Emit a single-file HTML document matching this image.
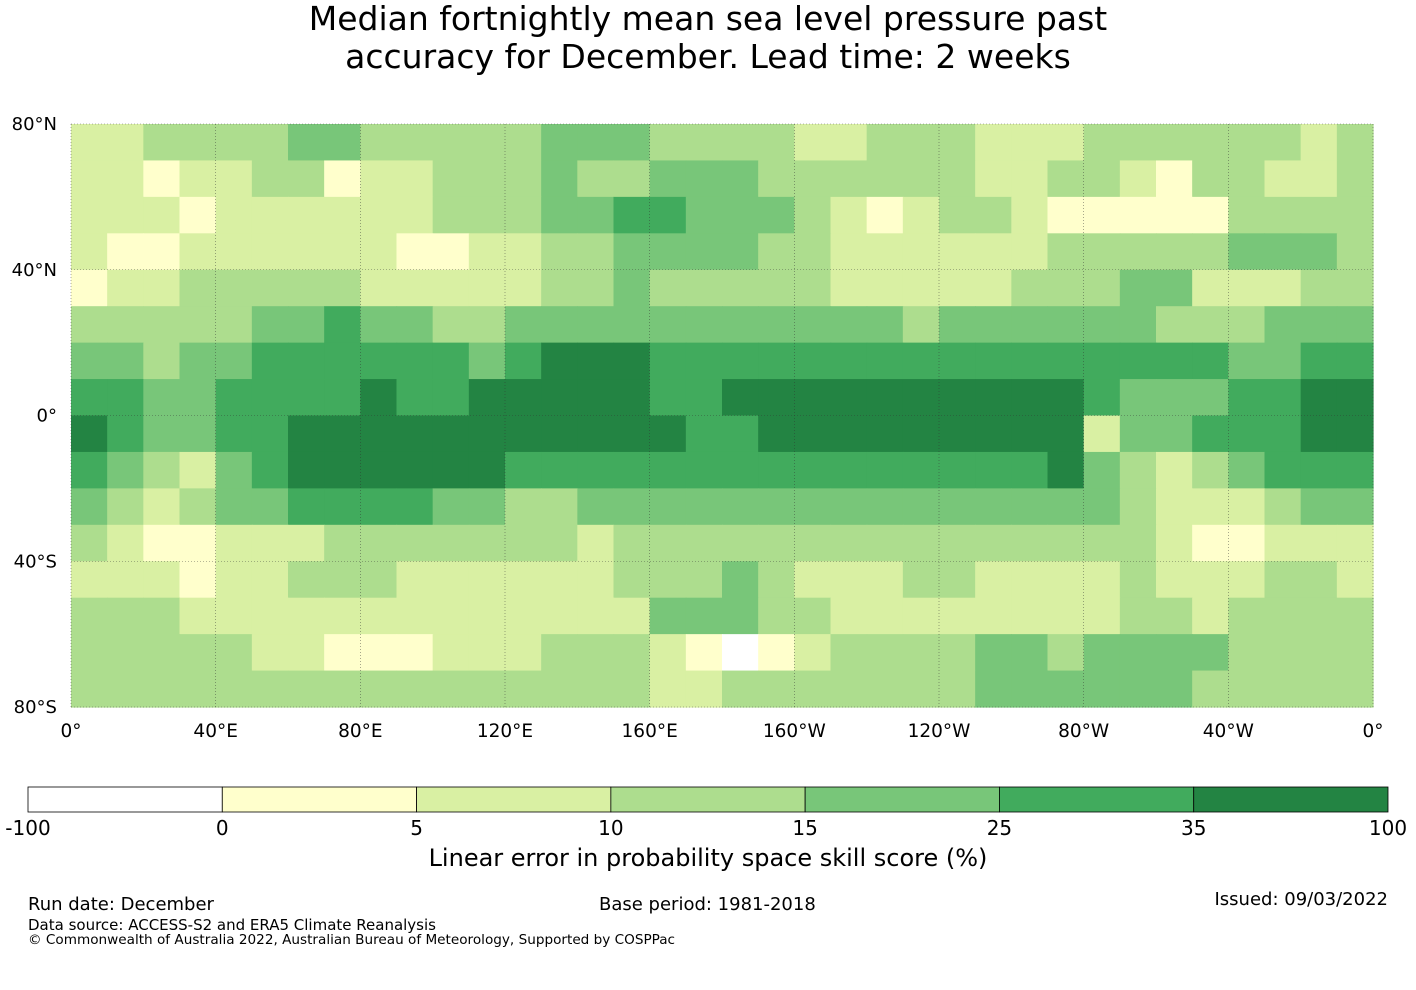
<!DOCTYPE html>
<html><head><meta charset="utf-8">
<style>
body{margin:0;background:#fff;font-family:"DejaVu Sans","Liberation Sans",sans-serif;}
#wrap{position:relative;width:1416px;height:990px;overflow:hidden;}
.t{position:absolute;white-space:nowrap;color:#000;}
</style></head>
<body>
<div id="wrap">
<div class="t" style="left:0;width:1416px;text-align:center;top:0px;font-size:33px;line-height:38px;">Median fortnightly mean sea level pressure past<br>accuracy for December. Lead time: 2 weeks</div>
<svg id="map" width="1416" height="990" style="position:absolute;left:0;top:0"></svg>
<div class="t" style="left:0;width:1416px;text-align:center;top:844px;font-size:24px;">Linear error in probability space skill score (%)</div>
<div class="t" style="left:28px;top:894px;font-size:18px;">Run date: December</div>
<div class="t" style="left:599px;top:894px;font-size:18px;">Base period: 1981-2018</div>
<div class="t" style="right:28px;top:889px;font-size:18px;">Issued: 09/03/2022</div>
<div class="t" style="left:28px;top:916px;font-size:15px;">Data source: ACCESS-S2 and ERA5 Climate Reanalysis</div>
<div class="t" style="left:28px;top:932px;font-size:13.6px;">© Commonwealth of Australia 2022, Australian Bureau of Meteorology, Supported by COSPPac</div>
</div>
<script>
const levelColors=["#ffffff","#ffffcc","#d9f0a3","#addd8e","#78c679","#41ab5d","#238443"];
const levelBounds=["-100","0","5","10","15","25","35","100"];
const latTicks=["80°N","40°N","0°","40°S","80°S"];
const latTickValues=[80,40,0,-40,-80];
const lonTicks=["0°","40°E","80°E","120°E","160°E","160°W","120°W","80°W","40°W","0°"];
const lonTickValues=[0,40,80,120,160,200,240,280,320,360];
const rowLats=[80,70,60,50,40,30,20,10,0,-10,-20,-30,-40,-50,-60,-70];
const grid=[
[2,2,3,3,3,3,4,4,3,3,3,3,3,4,4,4,3,3,3,3,2,2,3,3,3,2,2,2,3,3,3,3,3,3,2,3],
[2,2,1,2,2,3,3,1,2,2,3,3,3,4,3,3,4,4,4,3,3,3,3,3,3,2,2,3,3,2,1,3,3,2,2,3],
[2,2,2,1,2,2,2,2,2,2,3,3,3,4,4,5,5,4,4,4,3,2,1,2,3,3,2,1,1,1,1,1,3,3,3,3],
[2,1,1,2,2,2,2,2,2,1,1,2,2,3,3,4,4,4,4,3,3,2,2,2,2,2,2,3,3,3,3,3,4,4,4,3],
[1,2,2,3,3,3,3,3,2,2,2,2,2,3,3,4,3,3,3,3,3,2,2,2,2,2,3,3,3,4,4,2,2,2,3,3],
[3,3,3,3,3,4,4,5,4,4,3,3,4,4,4,4,4,4,4,4,4,4,4,3,4,4,4,4,4,4,3,3,3,4,4,4],
[4,4,3,4,4,5,5,5,5,5,5,4,5,6,6,6,5,5,5,5,5,5,5,5,5,5,5,5,5,5,5,5,4,4,5,5],
[5,5,4,4,5,5,5,5,6,5,5,6,6,6,6,6,5,5,6,6,6,6,6,6,6,6,6,6,5,4,4,4,5,5,6,6],
[6,5,4,4,5,5,6,6,6,6,6,6,6,6,6,6,6,5,5,6,6,6,6,6,6,6,6,6,2,4,4,5,5,5,6,6],
[5,4,3,2,4,5,6,6,6,6,6,6,5,5,5,5,5,5,5,5,5,5,5,5,5,5,5,6,4,3,2,3,4,5,5,5],
[4,3,2,3,4,4,5,5,5,5,4,4,3,3,4,4,4,4,4,4,4,4,4,4,4,4,4,4,4,3,2,2,2,3,4,4],
[3,2,1,1,2,2,2,3,3,3,3,3,3,3,2,3,3,3,3,3,3,3,3,3,3,3,3,3,3,3,2,1,1,2,2,2],
[2,2,2,1,2,2,3,3,3,2,2,2,2,2,2,3,3,3,4,3,2,2,2,3,3,2,2,2,2,3,2,2,2,3,3,2],
[3,3,3,2,2,2,2,2,2,2,2,2,2,2,2,2,4,4,4,3,3,2,2,2,2,2,2,2,2,3,3,2,3,3,3,3],
[3,3,3,3,3,2,2,1,1,1,2,2,2,3,3,3,2,1,0,1,2,3,3,3,3,4,4,3,4,4,4,4,3,3,3,3],
[3,3,3,3,3,3,3,3,3,3,3,3,3,3,3,3,2,2,3,3,3,3,3,3,3,4,4,4,4,4,4,3,3,3,3,3]
];
const NS="http://www.w3.org/2000/svg";
const svg=document.getElementById('map');
const X0=71,X1=1373,Y0=124,Y1=707;
function xOf(lon){return X0+(lon/360)*(X1-X0);}
function yOf(lat){return Y0+(80-lat)/160*(Y1-Y0);}
function mk(tag,attrs){const e=document.createElementNS(NS,tag);for(const k in attrs)e.setAttribute(k,attrs[k]);svg.appendChild(e);return e;}
grid.forEach((row,r)=>{row.forEach((v,c)=>{
 const x=xOf(c*10),y=yOf(rowLats[r]);
 const e=mk('rect',{x:x,y:y,width:xOf((c+1)*10)-x+0.6,height:yOf(rowLats[r]-10)-y+0.6,fill:levelColors[v]});
 
 
});});
lonTickValues.forEach((lon,i)=>{
 const l=mk('line',{x1:xOf(lon),x2:xOf(lon),y1:Y0,y2:Y1,stroke:'#333','stroke-width':0.6,'stroke-dasharray':'1,2',opacity:0.7});
 
 
 const t=mk('text',{x:xOf(lon),y:737,'font-size':18.5,'text-anchor':'middle','font-family':'DejaVu Sans, Liberation Sans, sans-serif'});
 t.textContent=lonTicks[i];
 
 
});
latTickValues.forEach((lat,i)=>{
 const l=mk('line',{x1:X0,x2:X1,y1:yOf(lat),y2:yOf(lat),stroke:'#333','stroke-width':0.6,'stroke-dasharray':'1,2',opacity:0.7});
 
 
 const t=mk('text',{x:57,y:yOf(lat)+6,'font-size':18,'text-anchor':'end','font-family':'DejaVu Sans, Liberation Sans, sans-serif'});
 t.textContent=latTicks[i];
 
 
});
const cb0=28,cb1=1388,cbY=787,cbH=25,n=levelColors.length,w=(cb1-cb0)/n;
levelColors.forEach((c,i)=>{
 const r=mk('rect',{x:cb0+i*w,y:cbY,width:w,height:cbH,fill:c,stroke:'#000','stroke-width':0.8});
 
 
});
levelBounds.forEach((b,i)=>{
 const t=mk('text',{x:cb0+i*w,y:835,'font-size':20,'text-anchor':'middle','font-family':'DejaVu Sans, Liberation Sans, sans-serif'});
 t.textContent=b;
 
 
});
</script>
</body></html>
